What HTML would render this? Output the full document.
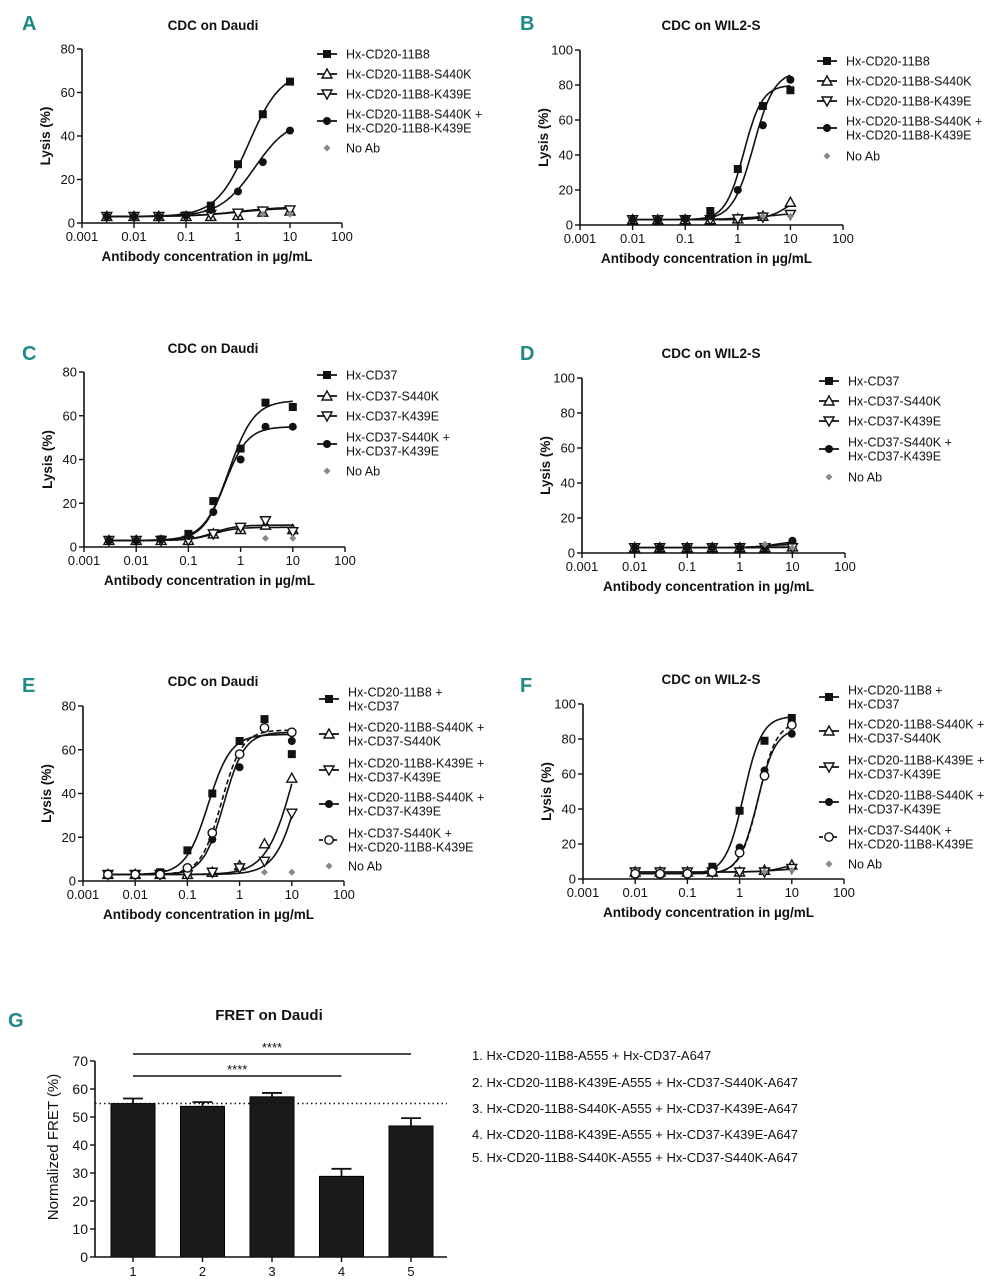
<!DOCTYPE html>
<html><head><meta charset="utf-8">
<style>
html,body{margin:0;padding:0;background:#fff;}
svg{display:block;font-family:"Liberation Sans",Arial,sans-serif;}
.tick{font-size:13px;fill:#111;}
.ttl{font-size:13.5px;font-weight:bold;fill:#111;}
.ax{font-size:13.5px;font-weight:bold;fill:#111;}
.leg{font-size:12.5px;fill:#111;}
.plab{font-family:"Liberation Sans Narrow","Liberation Sans",sans-serif;font-size:20px;font-weight:bold;fill:#1f8a86;}
</style></head>
<body>
<svg id="fig" width="1005" height="1280" viewBox="0 0 1005 1280"></svg>
<script>
// ---------- DATA ----------
const concFull = [0.003,0.01,0.03,0.1,0.3,1,3,10];
const concW = [0.01,0.03,0.1,0.3,1,3,10];
const noAbConc = [3,10];
const xTickLabels = ["0.001","0.01","0.1","1","10","100"];

// Panel A
const aLabels = [["Hx-CD20-11B8"],["Hx-CD20-11B8-S440K"],["Hx-CD20-11B8-K439E"],["Hx-CD20-11B8-S440K +","Hx-CD20-11B8-K439E"]];
const aS1 = [3,3,3,3.5,8,27,50,65];
const aS2 = [3,3,3,3,3,3.5,5,5.5];
const aS3 = [3,3,3,3,4,4.5,5.5,6];
const aS4 = [3,3,3,3.5,6,14.5,28,42.5];
const aNoAb = [4,4];
const aFit = [[3,70,1.6,1.4],[3,7,1,1],[3,7.5,1,1],[3,48,2.1,1.3]];

// Panel B
const bLabels = aLabels;
const bS1 = [3,3,3.5,8,32,68,77];
const bS2 = [3,3,3,3,3.5,5,13];
const bS3 = [3,3,3,3,3.5,4.5,6];
const bS4 = [3,3,3.5,5,20,57,83];
const bNoAb = [5,5];
const bFit = [[3,80,1.3,2.5],[3,20,10,2],[3,8,5,1],[3,88,2,2.2]];

// Panel C
const cLabels = [["Hx-CD37"],["Hx-CD37-S440K"],["Hx-CD37-K439E"],["Hx-CD37-S440K +","Hx-CD37-K439E"]];
const cS1 = [3,3,3.5,6,21,45,66,64];
const cS2 = [3,3,3,3,6,8,10,8];
const cS3 = [3,3,3,3,6,9,12,7];
const cS4 = [3,3,3.5,5,16,40,55,55];
const cNoAb = [4,4];
const cFit = [[3,67,0.6,1.8],[3,9,0.3,2],[3,10,0.3,2],[3,55,0.5,2]];

// Panel D
const dLabels = cLabels;
const dS1 = [3,3,3,3,3,3,5];
const dS2 = [3,3,3,3,3,3,3.5];
const dS3 = [3,3,3,3,3,3,3];
const dS4 = [3,3,3,3,3,3,7];
const dNoAb = [5,3];
const dFit = [[3,5,3,2],[3,3.5,3,2],[3,3.2,3,2],[3,7,5,2]];

// Panel E
const eLabels = [["Hx-CD20-11B8 +","Hx-CD37"],["Hx-CD20-11B8-S440K +","Hx-CD37-S440K"],["Hx-CD20-11B8-K439E +","Hx-CD37-K439E"],["Hx-CD20-11B8-S440K +","Hx-CD37-K439E"],["Hx-CD37-S440K +","Hx-CD20-11B8-K439E"]];
const eS1 = [3,3,4,14,40,64,74,58];
const eS2 = [3,3,3,3,4,7,17,47];
const eS3 = [3,3,3,3,4,6,9,31];
const eS4 = [3,3,3,6,19,52,70,64];
const eS5 = [3,3,3,6,22,58,70,68];
const eNoAb = [4,4];
const eFit = [[3,67,0.25,2],[3,100,12,1.6],[3,100,17,1.8],[3,68,0.5,2.2],[3,69,0.45,2.2]];

// Panel F
const fLabels = eLabels;
const fS1 = [3,3,3.5,7,39,79,92];
const fS2 = [4,4,4,4,4,5,8];
const fS3 = [4,4,4,4,4,4,6];
const fS4 = [3,3,3.5,5,18,62,83];
const fS5 = [3,3,3,4,15,59,88];
const fNoAb = [4,5];
const fFit = [[3,93,1.2,2.5],[4,12,10,2],[4,6,5,2],[3,86,2.2,2.5],[3,90,2.3,2.5]];

// Panel G
const gCats = ["1","2","3","4","5"];
const gMeans = [54.8,53.8,57.2,28.8,46.8];
const gErr = [1.8,1.5,1.4,2.7,2.8];
const gRef = 54.8;
const gTicks = [0,10,20,30,40,50,60,70];
const gLegend = ["1. Hx-CD20-11B8-A555 + Hx-CD37-A647","2. Hx-CD20-11B8-K439E-A555 + Hx-CD37-S440K-A647","3. Hx-CD20-11B8-S440K-A555 + Hx-CD37-K439E-A647","4. Hx-CD20-11B8-K439E-A555 + Hx-CD37-K439E-A647","5. Hx-CD20-11B8-S440K-A555 + Hx-CD37-S440K-A647"];

// ---------- DRAWING ----------
const NS="http://www.w3.org/2000/svg";
const svg=document.getElementById('fig');
function mk(tag,attrs,parent,text){const e=document.createElementNS(NS,tag);for(const k in attrs)e.setAttribute(k,attrs[k]);if(text!==undefined)e.textContent=text;(parent||svg).appendChild(e);return e;}

function marker(g,type,x,y){
  let e;
  if(type==='sq'){e=mk('rect',{x:x-4,y:y-4,width:8,height:8,fill:'#111'},g);}
  else if(type==='tu'){e=mk('polygon',{points:`${x},${y-5} ${x-5},${y+4} ${x+5},${y+4}`,fill:'#fff',stroke:'#111','stroke-width':1.4},g);}
  else if(type==='td'){e=mk('polygon',{points:`${x},${y+5} ${x-5},${y-4} ${x+5},${y-4}`,fill:'#fff',stroke:'#111','stroke-width':1.4},g);}
  else if(type==='ci'){e=mk('circle',{cx:x,cy:y,r:4,fill:'#111'},g);}
  else if(type==='oc'){e=mk('circle',{cx:x,cy:y,r:4.2,fill:'#fff',stroke:'#111','stroke-width':1.4},g);}
  else {e=mk('polygon',{points:`${x},${y-3.5} ${x+3.5},${y} ${x},${y+3.5} ${x-3.5},${y}`,fill:'#888'},g);}
  
  
  return e;
}

function panel(p){
  const g=mk('g',{});
  
  
  const lx=c=>p.x0+(Math.log10(c)+3)*(p.x1-p.x0)/5;
  const ly=v=>p.yB-v*(p.yB-p.yT)/p.ymax;
  const lab=mk('text',{x:p.lx,y:p.ly,class:'plab'},g,p.letter);
  
  const t=mk('text',{x:p.tx,y:p.ty,class:'ttl','text-anchor':'middle'},g,p.title);
  
  const ya=mk('line',{x1:p.x0,y1:p.yT,x2:p.x0,y2:p.yB,stroke:'#111','stroke-width':1.6},g);
  
  const xa=mk('line',{x1:p.x0,y1:p.yB,x2:p.x1,y2:p.yB,stroke:'#111','stroke-width':1.6},g);
  
  for(let v=0;v<=p.ymax;v+=20){
    mk('line',{x1:p.x0-5,y1:ly(v),x2:p.x0,y2:ly(v),stroke:'#111','stroke-width':1.4},g);
    const tl=mk('text',{x:p.x0-7,y:ly(v)+4.5,class:'tick','text-anchor':'end'},g,String(v));
    
  }
  xTickLabels.forEach((s,i)=>{
    const x=lx(Math.pow(10,i-3));
    mk('line',{x1:x,y1:p.yB,x2:x,y2:p.yB+5,stroke:'#111','stroke-width':1.4},g);
    const tl=mk('text',{x:x,y:p.yB+18,class:'tick','text-anchor':'middle'},g,s);
    
  });
  const yt=mk('text',{x:0,y:0,class:'ax','text-anchor':'middle',transform:`translate(${p.x0-32},${(p.yT+p.yB)/2}) rotate(-90)`},g,'Lysis (%)');
  
  const xt=mk('text',{x:(p.x0+p.x1)/2-5,y:p.yB+38,class:'ax','text-anchor':'middle'},g,'Antibody concentration in µg/mL');
  
  const types=['sq','tu','td','ci','oc'];
  p.series.forEach((s,i)=>{
    const f=p.fits[i];
    let d='';
    const c0=Math.log10(p.conc[0]),c1=Math.log10(p.conc[p.conc.length-1]);
    for(let k=0;k<=120;k++){
      const lc=c0+(c1-c0)*k/120, c=Math.pow(10,lc);
      const v=f[0]+(f[1]-f[0])/(1+Math.pow(f[2]/c,f[3]));
      d+=(k?'L':'M')+lx(c).toFixed(1)+','+ly(v).toFixed(1);
    }
    const path=mk('path',{d:d,fill:'none',stroke:'#111','stroke-width':1.6,'stroke-dasharray':types[i]==='oc'?'5,3':'none'},g);
    
    s.forEach((v,j)=>marker(g,types[i],lx(p.conc[j]),ly(v)));
  });
  p.noAb.forEach((v,j)=>marker(g,'dm',lx(noAbConc[j]),ly(v)));
  p.labels.forEach((lines,i)=>{
    const y=p.legY[i];
    const ly2=lines.length>1?y+7:y;
    const ln=mk('line',{x1:p.legX-10,y1:ly2,x2:p.legX+10,y2:ly2,stroke:'#111','stroke-width':1.8,'stroke-dasharray':types[i]==='oc'?'4,3':'none'},g);
    
    marker(g,types[i],p.legX,ly2);
    lines.forEach((s,k)=>{
      const te=mk('text',{x:p.legX+19,y:y+4.5+k*14,class:'leg'},g,s);
      
    });
  });
  marker(g,'dm',p.legX,p.noAbY);
  const na=mk('text',{x:p.legX+19,y:p.noAbY+4.5,class:'leg'},g,'No Ab');
  
}

panel({name:'panel-a',letter:'A',lx:22,ly:30,title:'CDC on Daudi',tx:213,ty:30,x0:82,x1:342,yT:49,yB:223,ymax:80,
  conc:concFull,series:[aS1,aS2,aS3,aS4],fits:aFit,noAb:aNoAb,labels:aLabels,legX:327,legY:[54,74,94,114],noAbY:148});
panel({name:'panel-b',letter:'B',lx:520,ly:30,title:'CDC on WIL2-S',tx:711,ty:30,x0:580,x1:843,yT:50,yB:225,ymax:100,
  conc:concW,series:[bS1,bS2,bS3,bS4],fits:bFit,noAb:bNoAb,labels:bLabels,legX:827,legY:[61,81,101,121],noAbY:156});
panel({name:'panel-c',letter:'C',lx:22,ly:360,title:'CDC on Daudi',tx:213,ty:353,x0:84,x1:345,yT:372,yB:547,ymax:80,
  conc:concFull,series:[cS1,cS2,cS3,cS4],fits:cFit,noAb:cNoAb,labels:cLabels,legX:327,legY:[375,396,416,437],noAbY:471});
panel({name:'panel-d',letter:'D',lx:520,ly:360,title:'CDC on WIL2-S',tx:711,ty:358,x0:582,x1:845,yT:378,yB:553,ymax:100,
  conc:concW,series:[dS1,dS2,dS3,dS4],fits:dFit,noAb:dNoAb,labels:dLabels,legX:829,legY:[381,401,421,442],noAbY:477});
panel({name:'panel-e',letter:'E',lx:22,ly:692,title:'CDC on Daudi',tx:213,ty:686,x0:83,x1:344,yT:706,yB:881,ymax:80,
  conc:concFull,series:[eS1,eS2,eS3,eS4,eS5],fits:eFit,noAb:eNoAb,labels:eLabels,legX:329,legY:[692,727,763,797,833],noAbY:866});
panel({name:'panel-f',letter:'F',lx:520,ly:692,title:'CDC on WIL2-S',tx:711,ty:684,x0:583,x1:844,yT:704,yB:879,ymax:100,
  conc:concW,series:[fS1,fS2,fS3,fS4,fS5],fits:fFit,noAb:fNoAb,labels:fLabels,legX:829,legY:[690,724,760,795,830],noAbY:864});

(function(){
  const g=mk('g',{});
  
  
  const x0=95,x1=447,yT=1061,yB=1257,ymax=70;
  const ly=v=>yB-v*(yB-yT)/ymax;
  const bx=i=>133+i*69.5;
  const lab=mk('text',{x:8,y:1027,class:'plab'},g,'G');
  
  const t=mk('text',{x:269,y:1020,class:'ttl','text-anchor':'middle',style:'font-size:15px'},g,'FRET on Daudi');
  
  gMeans.forEach((m,i)=>{
    const x=bx(i);
    const b=mk('rect',{x:x-22,y:ly(m),width:44,height:yB-ly(m),fill:'#1a1a1a',stroke:'#000','stroke-width':1},g);
    
    const eb=mk('path',{d:`M${x},${ly(m)}V${ly(m+gErr[i])}M${x-10},${ly(m+gErr[i])}H${x+10}`,stroke:'#111','stroke-width':1.8,fill:'none'},g);
    
    mk('line',{x1:x,y1:yB,x2:x,y2:yB+5,stroke:'#111','stroke-width':1.4},g);
    const tl=mk('text',{x:x,y:yB+19,class:'tick','text-anchor':'middle'},g,gCats[i]);
    
  });
  const rl=mk('line',{x1:x0,y1:ly(gRef),x2:447,y2:ly(gRef),stroke:'#111','stroke-width':1.5,'stroke-dasharray':'1.5,3'},g);
  
  const yax=mk('line',{x1:x0,y1:yT,x2:x0,y2:yB,stroke:'#111','stroke-width':1.6},g);
  
  const xax=mk('line',{x1:x0,y1:yB,x2:x1,y2:yB,stroke:'#111','stroke-width':1.6},g);
  
  gTicks.forEach(v=>{
    mk('line',{x1:x0-5,y1:ly(v),x2:x0,y2:ly(v),stroke:'#111','stroke-width':1.4},g);
    const tl=mk('text',{x:x0-7,y:ly(v)+5,class:'tick','text-anchor':'end',style:'font-size:14px'},g,String(v));
    
  });
  const yt=mk('text',{x:0,y:0,'text-anchor':'middle',style:'font-size:15px',fill:'#111',transform:`translate(58,${(yT+yB)/2-12}) rotate(-90)`},g,'Normalized FRET (%)');
  
  [[0,4,1054],[0,3,1076]].forEach(s=>{
    const l=mk('line',{x1:bx(s[0]),y1:s[2],x2:bx(s[1]),y2:s[2],stroke:'#111','stroke-width':1.6},g);
    
    const st=mk('text',{x:(bx(s[0])+bx(s[1]))/2,y:s[2]-2,'text-anchor':'middle',style:'font-size:13px',fill:'#111'},g,'****');
    
  });
  const ys=[1060,1087,1113,1139,1162];
  gLegend.forEach((s,i)=>{
    const te=mk('text',{x:472,y:ys[i],style:'font-size:13px',fill:'#111'},g,s);
    
  });
})();
</script>
</body></html>
